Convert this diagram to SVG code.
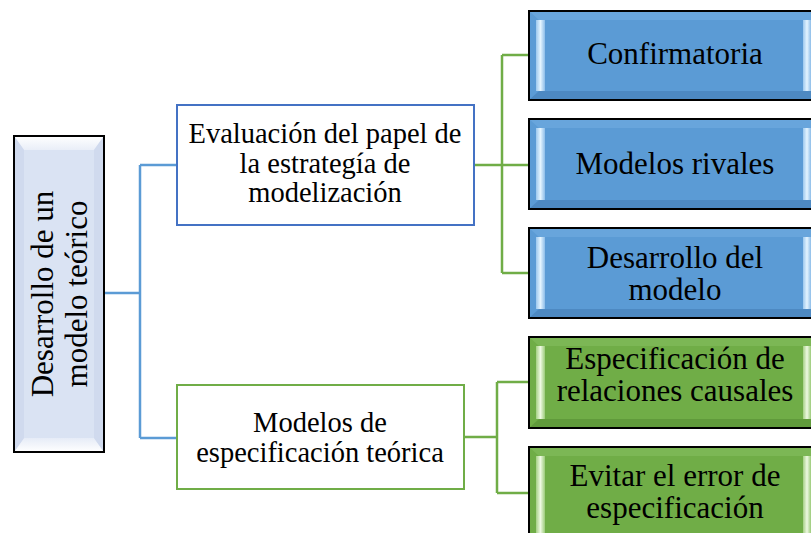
<svg xmlns="http://www.w3.org/2000/svg" width="811" height="533" viewBox="0 0 811 533">
<defs>
<linearGradient id="bSide" x1="0" y1="0" x2="1" y2="0"><stop offset="0" stop-color="#9cc8ee"/><stop offset="0.5" stop-color="#e4f4ff"/><stop offset="1" stop-color="#8dbde9"/></linearGradient>
<linearGradient id="gSide" x1="0" y1="0" x2="1" y2="0"><stop offset="0" stop-color="#a5d084"/><stop offset="0.5" stop-color="#eef9e2"/><stop offset="1" stop-color="#9bcb79"/></linearGradient>
<linearGradient id="rTop" x1="0" y1="0" x2="0" y2="1"><stop offset="0" stop-color="#ffffff"/><stop offset="1" stop-color="#e9eef8"/></linearGradient>
<linearGradient id="rBot" x1="0" y1="1" x2="0" y2="0"><stop offset="0" stop-color="#ffffff"/><stop offset="1" stop-color="#e6ecf7"/></linearGradient>
</defs>
<style>
text{font-family:"Liberation Serif","Times New Roman",serif;fill:#000;text-anchor:middle}
.t29{font-size:28.5px}
.t31{font-size:31px}
.outline{fill:none;stroke:#000;stroke-width:2}
.blue{fill:#5b9bd5}
.bTop{fill:#68a5dc}
.bBot{fill:#4d89c2}
.bSide{fill:url(#bSide)}
.green{fill:#70ad47}
.gTop{fill:#7cb755}
.gBot{fill:#609a3b}
.gSide{fill:url(#gSide)}
.cb{fill:none;stroke:#5b9bd5;stroke-width:2.5}
.cg{fill:none;stroke:#70ad47;stroke-width:2.5}
</style>
<rect width="811" height="533" fill="#ffffff"/>
<g id="connectors">
<path class="cb" d="M104,293 H140 M140,165 V438 M140,165 H177 M140,438 H177"/>
<path class="cg" d="M474,165 H529" stroke-width="4"/>
<path class="cg" d="M502,55 V273 M502,55 H529 M502,273 H529"/>
<path class="cg" d="M464,437 H497 M497,382 V493 M497,382 H529 M497,493 H529"/>
</g>
<g id="root">
<rect x="14" y="136" width="90" height="316" fill="#dae3f3"/>
<polygon points="14,136 104,136 94,150 24,150" fill="url(#rTop)"/>
<polygon points="14,452 104,452 94,438 24,438" fill="url(#rBot)"/>
<polygon points="14,136 24,150 24,438 14,452" fill="#d0daee"/>
<polygon points="104,136 94,150 94,438 104,452" fill="#d0daee"/>
<rect class="outline" x="14" y="136" width="90" height="316"/>
<g transform="translate(60,294) rotate(-90)">
<text class="t31" x="0" y="-7">Desarrollo de un</text>
<text class="t31" x="0" y="27">modelo teórico</text>
</g>
</g>
<g id="evaluacion">
<rect x="177" y="105" width="297" height="120" fill="#fff" stroke="#4472c4" stroke-width="2"/>
<text class="t29" x="325" y="143">Evaluación del papel de</text>
<text class="t29" x="325" y="172.5">la estrategía de</text>
<text class="t29" x="325" y="202">modelización</text>
</g>
<g id="especificacion-teorica">
<rect x="177" y="385" width="287" height="104" fill="#fff" stroke="#70ad47" stroke-width="2"/>
<text class="t29" x="320" y="432">Modelos de</text>
<text class="t29" x="320" y="462">especificación teórica</text>
</g>
<g id="confirmatoria">
<rect class="blue" x="529" y="11" width="292" height="89"/>
<polygon class="bTop" points="529,11 821,11 811,20 539,20"/>
<polygon class="bBot" points="529,100 821,100 811,91 539,91"/>
<polygon class="bSide" points="536,20 545,20 545,91 536,91"/>
<polygon class="bSide" points="803,20 811,20 811,91 803,91"/>
<rect class="outline" x="529" y="11" width="292" height="89"/>
<text class="t31" x="675" y="64">Confirmatoria</text>
</g>
<g id="modelos-rivales">
<rect class="blue" x="529" y="119" width="292" height="90"/>
<polygon class="bTop" points="529,119 821,119 811,128 539,128"/>
<polygon class="bBot" points="529,209 821,209 811,200 539,200"/>
<polygon class="bSide" points="536,128 545,128 545,200 536,200"/>
<polygon class="bSide" points="803,128 811,128 811,200 803,200"/>
<rect class="outline" x="529" y="119" width="292" height="90"/>
<text class="t31" x="675" y="174">Modelos rivales</text>
</g>
<g id="desarrollo-modelo">
<rect class="blue" x="529" y="228" width="292" height="90"/>
<polygon class="bTop" points="529,228 821,228 811,237 539,237"/>
<polygon class="bBot" points="529,318 821,318 811,309 539,309"/>
<polygon class="bSide" points="536,237 545,237 545,309 536,309"/>
<polygon class="bSide" points="803,237 811,237 811,309 803,309"/>
<rect class="outline" x="529" y="228" width="292" height="90"/>
<text class="t31" x="675" y="267.5">Desarrollo del</text>
<text class="t31" x="675" y="299.5">modelo</text>
</g>
<g id="relaciones-causales">
<rect class="green" x="529" y="337" width="292" height="91"/>
<polygon class="gTop" points="529,337 821,337 811,346 539,346"/>
<polygon class="gBot" points="529,428 821,428 811,419 539,419"/>
<polygon class="gSide" points="536,346 545,346 545,419 536,419"/>
<polygon class="gSide" points="803,346 811,346 811,419 803,419"/>
<rect class="outline" x="529" y="337" width="292" height="91"/>
<text class="t31" x="675" y="369">Especificación de</text>
<text class="t31" x="675" y="401">relaciones causales</text>
</g>
<g id="evitar-error">
<rect class="green" x="529" y="447" width="292" height="95"/>
<polygon class="gTop" points="529,447 821,447 811,456 539,456"/>
<polygon class="gSide" points="536,456 545,456 545,533 536,533"/>
<polygon class="gSide" points="803,456 811,456 811,533 803,533"/>
<rect class="outline" x="529" y="447" width="292" height="95"/>
<text class="t31" x="675" y="485.5">Evitar el error de</text>
<text class="t31" x="675" y="517.5">especificación</text>
</g>
</svg>
